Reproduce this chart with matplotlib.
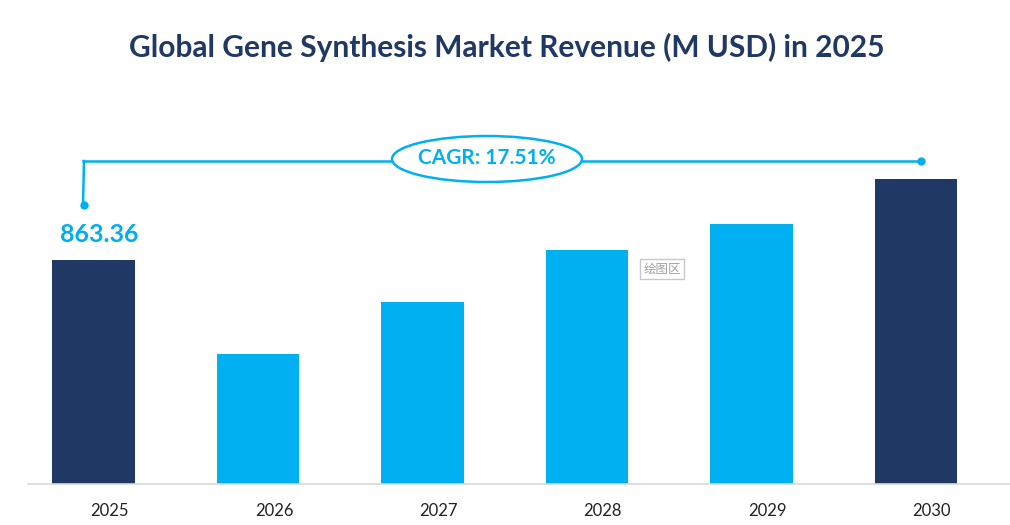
import matplotlib.pyplot as plt
import matplotlib.transforms as mtransforms
from matplotlib.patches import Ellipse

years = ["2025", "2026", "2027", "2028", "2029", "2030"]
revenue = [863.36, 501, 701, 902, 1002, 1175]
first_label = "863.36"
cagr_text = "CAGR: 17.51%"
title = "Global Gene Synthesis Market Revenue (M USD) in 2025"

navy = "#1F3864"
blue = "#00B0F0"
colors = [navy, blue, blue, blue, blue, navy]

plt.rcParams['font.family'] = ['Lato', 'DejaVu Sans']

fig = plt.figure(figsize=(10.1, 5.25), dpi=100)
W, H = 1010, 525
# axes: x 28..1010 px, y 100..484 px (from top)
ax = fig.add_axes([28 / W, (H - 484) / H, (1010 - 28) / W, (484 - 100) / H])
x = list(range(len(years)))
ax.bar(x, revenue, width=0.5, color=colors)
ax.set_xlim(-0.398, 5.572)
ax.set_ylim(0, 384 * 863.36 / 224)
ax.set_yticks([])
ax.set_xticks(x)
ax.set_xticklabels(years, fontsize=12)
ax.tick_params(axis='x', length=0, pad=14, colors='#222222')
# labels sit a little right of the bar centres in the original
shift = mtransforms.ScaledTranslation(16 / 100, 0, fig.dpi_scale_trans)
for lbl in ax.get_xticklabels():
    lbl.set_transform(lbl.get_transform() + shift)
for s in ['top', 'right', 'left']:
    ax.spines[s].set_visible(False)
ax.spines['bottom'].set_color('#d9d9d9')
ax.spines['bottom'].set_linewidth(1.2)

fig.text(507 / W, 1 - 47 / H, title, ha='center', va='center', fontsize=21.5,
         fontweight='bold', color=navy)

# value label above first bar
ax.annotate(first_label, (0, revenue[0]), xytext=(4, 10), textcoords='offset points',
            ha='center', va='bottom', fontsize=18, fontweight='bold', color="#00AEEF")

# CAGR connector in figure pixels
def fx(px):
    return px / W

def fy(py):
    return 1 - py / H

line_kw = dict(color=blue, lw=1.8, transform=fig.transFigure, zorder=2)
fig.add_artist(plt.Line2D([fx(83), fx(84)], [fy(205), fy(161)], **line_kw))
fig.add_artist(plt.Line2D([fx(83), fx(921)], [fy(161), fy(161)], **line_kw))
fig.add_artist(plt.Line2D([fx(84)], [fy(205)], marker='o', ms=5, color=blue,
                          transform=fig.transFigure, zorder=2))
fig.add_artist(plt.Line2D([fx(921)], [fy(161)], marker='o', ms=5, color=blue,
                          transform=fig.transFigure, zorder=2))
fig.add_artist(Ellipse((fx(487), fy(159)), 190 / W, 46 / H, transform=fig.transFigure,
                       facecolor='white', edgecolor=blue, lw=1.8, zorder=3))
fig.text(fx(487), fy(158), cagr_text, ha='center', va='center', fontsize=15,
         fontweight='bold', color=blue, zorder=4)

# plot-area tooltip
fig.text(fx(662), fy(269), "绘图区", ha='center', va='center', fontsize=9, color='#a0a0a0',
         family=['Noto Sans CJK SC', 'DejaVu Sans'],
         bbox=dict(boxstyle='square,pad=0.25', facecolor='white', edgecolor='#c8c8c8', lw=1))

fig.savefig("out.png", dpi=100)
